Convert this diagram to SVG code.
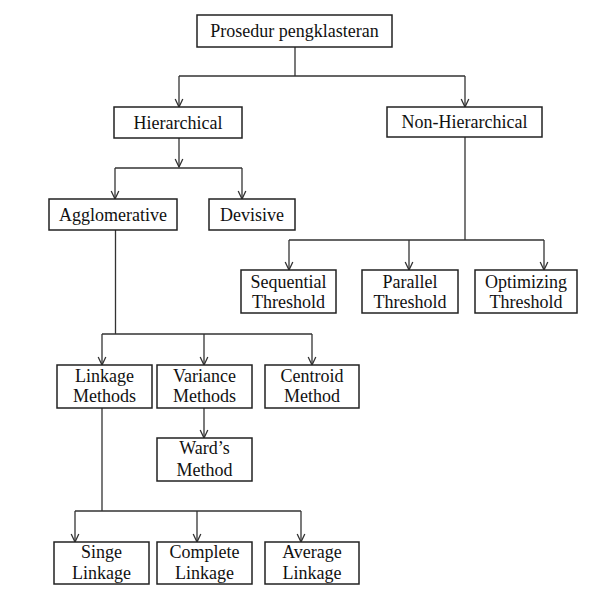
<svg xmlns="http://www.w3.org/2000/svg" width="604" height="605" viewBox="0 0 604 605">
<style>
.box{fill:#fff;stroke:#222;stroke-width:1.5}
.t{font-family:"Liberation Serif","Times New Roman",serif;font-size:18px;fill:#111;text-anchor:middle}
.c{fill:none;stroke:#333;stroke-width:1.3}
.a{marker-end:url(#ah)}
</style>
<defs>
<marker id="ah" markerUnits="userSpaceOnUse" markerWidth="12" markerHeight="12" viewBox="-10 -6 12 12" refX="0" refY="0" orient="auto">
<path d="M-8,-3.8 L0,0 L-8,3.8" fill="none" stroke="#333" stroke-width="1.3"/>
</marker>
</defs>
<rect width="604" height="605" fill="#fff"/>
<g id="connectors">
<path class="c" d="M295,47 V76 M179,76 H465"/>
<path class="c a" d="M179,76 V107"/>
<path class="c a" d="M465,76 V107"/>
<path class="c a" d="M179,138 V167"/>
<path class="c" d="M115,168 H242"/>
<path class="c a" d="M115,168 V199"/>
<path class="c a" d="M242,168 V199"/>
<path class="c" d="M465,137 V240 M289,240 H544"/>
<path class="c a" d="M289,240 V270"/>
<path class="c a" d="M409,240 V270"/>
<path class="c a" d="M544,240 V270"/>
<path class="c" d="M115.5,230 V334 M102,334 H312"/>
<path class="c a" d="M102,334 V365"/>
<path class="c a" d="M204,334 V365"/>
<path class="c a" d="M312,334 V365"/>
<path class="c a" d="M204,408 V438"/>
<path class="c" d="M102,408 V511 M75,511 H301"/>
<path class="c a" d="M75,511 V542"/>
<path class="c a" d="M197,511 V542"/>
<path class="c a" d="M301,511 V542"/>
</g>
<g id="prosedur"><rect class="box" x="197" y="15" width="195" height="32"/><text class="t" x="294.5" y="37">Prosedur pengklasteran</text></g>
<g id="hierarchical"><rect class="box" x="114" y="107" width="128" height="31"/><text class="t" x="178" y="129">Hierarchical</text></g>
<g id="nonhierarchical"><rect class="box" x="387" y="107" width="155" height="30"/><text class="t" x="464.5" y="128">Non-Hierarchical</text></g>
<g id="agglomerative"><rect class="box" x="49" y="199" width="128" height="31"/><text class="t" x="113" y="221">Agglomerative</text></g>
<g id="devisive"><rect class="box" x="209" y="199" width="86" height="31"/><text class="t" x="252" y="221">Devisive</text></g>
<g id="sequential"><rect class="box" x="241" y="270" width="95" height="43"/><text class="t" x="288.5" y="288">Sequential</text><text class="t" x="288.5" y="308">Threshold</text></g>
<g id="parallel"><rect class="box" x="362" y="270" width="96" height="43"/><text class="t" x="410" y="288">Parallel</text><text class="t" x="410" y="308">Threshold</text></g>
<g id="optimizing"><rect class="box" x="475" y="270" width="102" height="43"/><text class="t" x="526" y="288">Optimizing</text><text class="t" x="526" y="308">Threshold</text></g>
<g id="linkage"><rect class="box" x="57" y="365" width="95" height="43"/><text class="t" x="104.5" y="382">Linkage</text><text class="t" x="104.5" y="402">Methods</text></g>
<g id="variance"><rect class="box" x="157" y="365" width="95" height="43"/><text class="t" x="204.5" y="382">Variance</text><text class="t" x="204.5" y="402">Methods</text></g>
<g id="centroid"><rect class="box" x="265" y="365" width="94" height="43"/><text class="t" x="312" y="382">Centroid</text><text class="t" x="312" y="402">Method</text></g>
<g id="wards"><rect class="box" x="157" y="438" width="95" height="43"/><text class="t" x="204.5" y="454">Ward’s</text><text class="t" x="204.5" y="476">Method</text></g>
<g id="singe"><rect class="box" x="54" y="542" width="95" height="42"/><text class="t" x="101.5" y="558">Singe</text><text class="t" x="101.5" y="579">Linkage</text></g>
<g id="complete"><rect class="box" x="157" y="542" width="95" height="42"/><text class="t" x="204.5" y="558">Complete</text><text class="t" x="204.5" y="579">Linkage</text></g>
<g id="average"><rect class="box" x="265" y="542" width="94" height="42"/><text class="t" x="312" y="558">Average</text><text class="t" x="312" y="579">Linkage</text></g>
</svg>
